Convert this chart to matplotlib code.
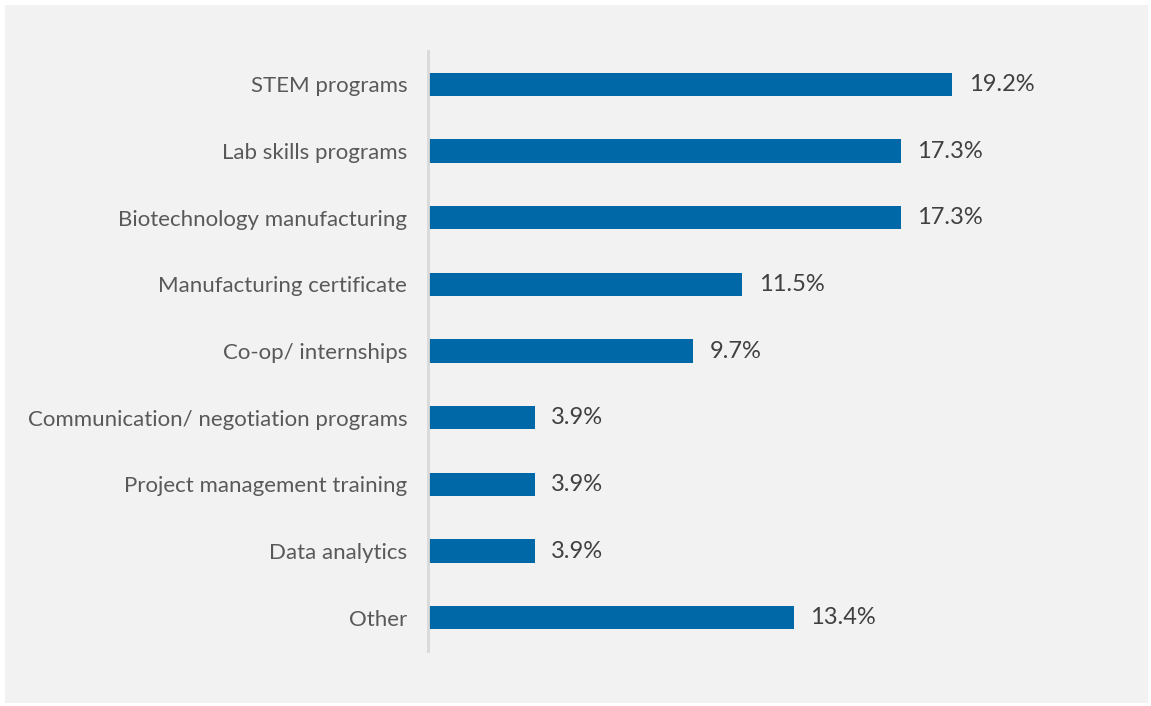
import matplotlib.pyplot as plt
from matplotlib.patches import Rectangle

categories = ['STEM programs', 'Lab skills programs', 'Biotechnology manufacturing',
              'Manufacturing certificate', 'Co-op/ internships',
              'Communication/ negotiation programs', 'Project management training',
              'Data analytics', 'Other']
values = [19.2, 17.3, 17.3, 11.5, 9.7, 3.9, 3.9, 3.9, 13.4]

bar_color = '#0068A6'
plt.rcParams['font.family'] = ['Lato', 'DejaVu Sans']

fig = plt.figure(figsize=(11.51, 7.06), dpi=100, facecolor='white')
# grey chart area behind everything
fig.patches.append(Rectangle((5 / 1151, 3 / 706), 1143 / 1151, 698 / 706,
                             transform=fig.transFigure, facecolor='#f2f2f2',
                             edgecolor='none', zorder=-10))

ax = fig.add_axes([428 / 1151, 55 / 706, 672 / 1151, 600 / 706])
ax.set_facecolor('none')
ax.set_zorder(5)

y = list(range(len(categories)))
ax.barh(y, values, height=0.35, color=bar_color)
for yi, v in zip(y, values):
    ax.text(v + 0.6, yi, f'{v}%', va='center', ha='left', fontsize=17, color='#404040')

ax.set_xlim(0, 24.6)
ax.set_ylim(len(categories) - 0.5, -0.5)
ax.set_yticks(y)
ax.set_yticklabels(categories, fontsize=16, color='#595959')
ax.tick_params(axis='y', length=0, pad=15)
ax.set_xticks([])
for s in ['top', 'right', 'bottom']:
    ax.spines[s].set_visible(False)
ax.spines['left'].set_color('#d9d9d9')
ax.spines['left'].set_linewidth(2)

fig.savefig('out.png', dpi=100, facecolor='white')
